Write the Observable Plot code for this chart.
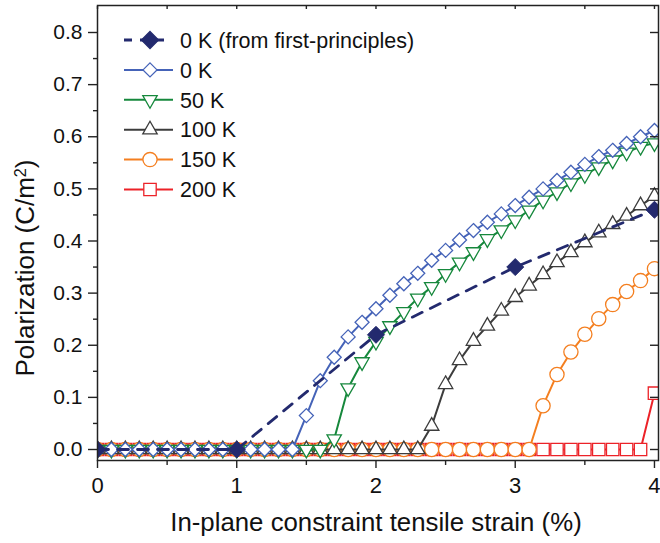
<!DOCTYPE html>
<html><head><meta charset="utf-8">
<script src="https://cdn.jsdelivr.net/npm/d3@7"></script>
<script src="https://cdn.jsdelivr.net/npm/@observablehq/plot@0.6"></script>
<style>
body{margin:0;background:#fff}
#chart svg{display:block}
</style></head><body><div id="chart"></div>
<script>
// ---- data ----
const strain = [0.0,0.1,0.2,0.3,0.4,0.5,0.6,0.7,0.8,0.9,1.0,1.1,1.2,1.3,1.4,1.5,1.6,1.7,1.8,1.9,2.0,
  2.1,2.2,2.3,2.4,2.5,2.6,2.7,2.8,2.9,3.0,3.1,3.2,3.3,3.4,3.5,3.6,3.7,3.8,3.9,4.0];
const p0K = [0,0,0,0,0,0,0,0,0,0,0,0,0,0,0,
  0.065,0.132,0.177,0.216,0.244,0.270,0.296,0.318,0.338,0.363,0.382,0.402,0.420,0.436,0.452,
  0.468,0.484,0.500,0.516,0.532,0.547,0.562,0.574,0.587,0.600,0.612];
const p50K = [0,0,0,0,0,0,0,0,0,0,0,0,0,0,0,0,0,
  0.020,0.118,0.168,0.207,0.237,0.264,0.290,0.312,0.337,0.359,0.379,0.404,0.421,0.440,
  0.459,0.478,0.494,0.511,0.527,0.542,0.555,0.570,0.581,0.588];
const p100K = [0,0,0,0,0,0,0,0,0,0,0,0,0,0,0,0,0,0,0,0,0,0,0,0,
  0.045,0.125,0.171,0.208,0.237,0.266,0.292,0.314,0.336,0.359,0.378,0.397,0.416,0.432,0.448,0.468,0.486];
const p150K = [0,0,0,0,0,0,0,0,0,0,0,0,0,0,0,0,0,0,0,0,0,0,0,0,0,0,0,0,0,0,0,0,
  0.084,0.144,0.187,0.221,0.251,0.278,0.303,0.324,0.347];
const p200K = [0,0,0,0,0,0,0,0,0,0,0,0,0,0,0,0,0,0,0,0,0,0,0,0,0,0,0,0,0,0,0,0,0,0,0,0,0,0,0,0,
  0.108];
const fpStrain = [0, 1, 2, 3, 4];
const fpP = [0, 0, 0.22, 0.35, 0.46];
const legendLabels = ["0 K (from first-principles)", "0 K", "50 K", "100 K", "150 K", "200 K"];
const xTicks = [0, 1, 2, 3, 4];
const xMinor = [0.5, 1.5, 2.5, 3.5];
const yTicks = [0, 0.1, 0.2, 0.3, 0.4, 0.5, 0.6, 0.7, 0.8];
const yMinor = [0.05, 0.15, 0.25, 0.35, 0.45, 0.55, 0.65, 0.75];

// ---- styles ----
const navy = "#232a6e", blue = "#4563b8", green = "#16883c", gray = "#3c3c3c", orange = "#f47f20", red = "#ec2228";
const poly = pts => ({draw(ctx){ ctx.moveTo(pts[0][0], pts[0][1]); for (let i = 1; i < pts.length; i++) ctx.lineTo(pts[i][0], pts[i][1]); ctx.closePath(); }});
const symDiamond = poly([[0,-7],[7,0],[0,7],[-7,0]]);
const symDiamondF = poly([[0,-8.5],[8.5,0],[0,8.5],[-8.5,0]]);
const symDown = poly([[0,8.4],[7.2,-4.2],[-7.2,-4.2]]);
const symUp = poly([[0,-8.4],[7.2,4.2],[-7.2,4.2]]);
const symSquare = poly([[-6.2,-6.2],[6.2,-6.2],[6.2,6.2],[-6.2,6.2]]);
const symCircle = {draw(ctx){ ctx.moveTo(7.1,0); ctx.arc(0,0,7.1,0,2*Math.PI); }};

const mk = vals => strain.map((x, i) => ({x, y: vals[i]}));
const series = [
  {vals: p200K, color: red, sym: symSquare},
  {vals: p150K, color: orange, sym: symCircle},
  {vals: p100K, color: gray, sym: symUp},
  {vals: p50K, color: green, sym: symDown},
  {vals: p0K, color: blue, sym: symDiamond}
];
const fp = fpStrain.map((x, i) => ({x, y: fpP[i]}));

const marks = [];
for (const s of series) {
  const d = mk(s.vals);
  marks.push(Plot.line(d, {x: "x", y: "y", stroke: s.color, strokeWidth: 2, clip: true}));
  marks.push(Plot.dot(d, {x: "x", y: "y", symbol: s.sym, r: 5, stroke: s.color, fill: "white", strokeWidth: 1.3, clip: true}));
}
marks.push(Plot.line(fp, {x: "x", y: "y", stroke: navy, strokeWidth: 2.8, strokeDasharray: "11,9", clip: true}));
marks.push(Plot.dot(fp, {x: "x", y: "y", symbol: symDiamondF, r: 5, fill: navy, stroke: navy, strokeWidth: 1, clip: true}));

const font = "Liberation Sans, Arial, Helvetica, sans-serif";
const axisStyle = {stroke: "#222", strokeWidth: 1.4};
marks.push(
  Plot.axisX({anchor: "bottom", ticks: xTicks, tickSize: 8, tickPadding: 9, tickFormat: d => String(d), fontSize: 22, label: null, ...axisStyle}),
  Plot.axisX({anchor: "bottom", ticks: xMinor, tickSize: 5, text: null, label: null, ...axisStyle}),
  Plot.axisX({anchor: "top", ticks: xTicks.concat(xMinor), tickSize: -3, text: null, label: null, ...axisStyle}),
  Plot.axisY({anchor: "left", ticks: yTicks, tickSize: 9, tickPadding: 6, tickFormat: d => d.toFixed(1), fontSize: 21, label: null, ...axisStyle}),
  Plot.axisY({anchor: "left", ticks: yMinor, tickSize: 4, text: null, label: null, ...axisStyle}),
  Plot.axisY({anchor: "right", ticks: yTicks, tickSize: -9, text: null, label: null, ...axisStyle}),
  Plot.frame({stroke: "#222", strokeWidth: 1.5})
);

const plot = Plot.plot({
  width: 660, height: 543,
  marginTop: 5, marginRight: 2, marginBottom: 83, marginLeft: 97,
  style: {fontFamily: font, color: "#111", background: "white"},
  x: {domain: [0, 4.029]},
  y: {domain: [-0.0211, 0.8518]},
  marks
});

// ---- legend & axis titles ----
const svg = d3.select(plot);
const lg = svg.append("g").attr("font-family", font).attr("font-size", 21.5).attr("fill", "#111").attr("text-anchor", "start");
const legendItems = [
  {color: navy, sym: symDiamondF, fill: navy, dash: "8,8"},
  {color: blue, sym: symDiamond, fill: "white"},
  {color: green, sym: symDown, fill: "white"},
  {color: gray, sym: symUp, fill: "white"},
  {color: orange, sym: symCircle, fill: "white"},
  {color: red, sym: symSquare, fill: "white"}
];
legendItems.forEach((it, i) => {
  const y = 40 + i * 29.9;
  const g = lg.append("g").attr("transform", `translate(0,${y})`);
  g.append("line").attr("x1", 124).attr("x2", i === 0 ? 168 : 173).attr("y1", 0).attr("y2", 0)
    .attr("stroke", it.color).attr("stroke-width", i === 0 ? 2.8 : 2).attr("stroke-dasharray", it.dash || null);
  g.append("path").attr("transform", "translate(150,0)").attr("d", d3.symbol(it.sym)())
    .attr("fill", it.fill).attr("stroke", it.color).attr("stroke-width", 1.3);
  g.append("text").attr("x", 180).attr("y", 0).attr("dy", "0.36em").text(legendLabels[i]);
});

const yl = svg.append("text").attr("font-family", font).attr("font-size", 26).attr("fill", "#111")
  .attr("text-anchor", "middle").attr("transform", "translate(34,268) rotate(-90)");
yl.append("tspan").text("Polarization (C/m");
yl.append("tspan").attr("dy", "-0.5em").attr("font-size", "0.62em").text("2");
yl.append("tspan").attr("dy", "0.31em").text(")");

svg.append("text").attr("font-family", font).attr("font-size", 25.8).attr("fill", "#111")
  .attr("text-anchor", "middle").attr("x", 376).attr("y", 531)
  .text("In-plane constraint tensile strain (%)");

document.getElementById("chart").appendChild(plot);
</script></body></html>
